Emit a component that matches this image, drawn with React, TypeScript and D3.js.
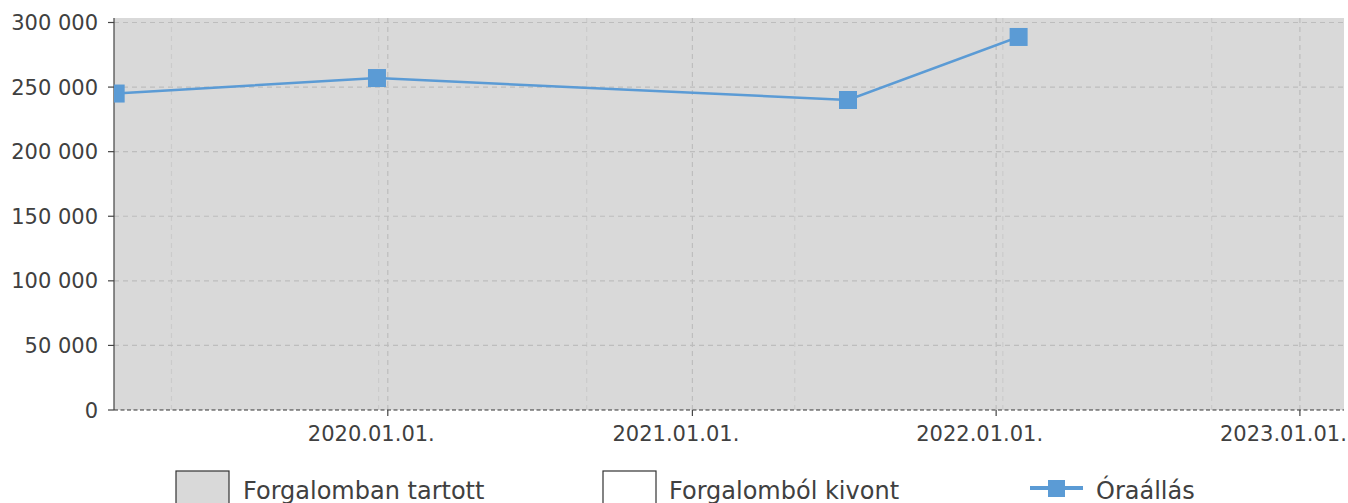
import React from "react";
import * as d3 from "d3";

// Óraállás idősor (dátum, km)
const readingDates = ["2019-02-08", "2019-12-19", "2021-07-07", "2022-01-28"];
const readingValues = [245000, 257000, 240000, 288800];

const yearTicks = ["2020-01-01", "2021-01-01", "2022-01-01", "2023-01-01"];
const minorTicks = ["2019-04-16", "2019-12-21", "2020-08-27", "2021-05-04", "2022-01-09", "2022-09-17"];
const yTicks = [0, 50000, 100000, 150000, 200000, 250000, 300000];
const legendLabels = ["Forgalomban tartott", "Forgalomból kivont", "Óraállás"];

const W = 1348;
const H = 503;
const M = { left: 114, right: 1344, top: 18, bottom: 410 };
const LINE = "#5b9bd5";
const BG = "#d9d9d9";
const TEXT = "#404040";
const FONT = "DejaVu Sans, sans-serif";

const parse = d3.utcParse("%Y-%m-%d");
const fmtDate = d3.utcFormat("%Y.%m.%d.");
const fmtNum = (v: number) => d3.format(",")(v).replace(/,/g, " ");

export default function App() {
  const x = d3
    .scaleUtc()
    .domain([parse("2019-02-06")!, parse("2023-02-23")!])
    .range([M.left, M.right]);
  const y = d3.scaleLinear().domain([0, 300000]).range([M.bottom, 22.5]);

  const points = readingDates.map((d, i) => ({ date: parse(d)!, value: readingValues[i] }));
  const line = d3
    .line<{ date: Date; value: number }>()
    .x((d) => x(d.date))
    .y((d) => y(d.value));

  return (
    <>
      <style>{"body{margin:0}"}</style>
      <svg width={W} height={H} style={{ display: "block", fontFamily: FONT }}>
        <defs>
          <clipPath id="plot">
            <rect x={M.left} y={M.top} width={M.right - M.left} height={M.bottom - M.top} />
          </clipPath>
        </defs>
        <rect x={M.left} y={M.top} width={M.right - M.left} height={M.bottom - M.top} fill={BG} />

        {/* rácsvonalak */}
        {minorTicks.map((d) => (
          <line key={d} x1={x(parse(d)!)} x2={x(parse(d)!)} y1={M.top} y2={M.bottom}
            stroke="#cbcbcb" strokeWidth={1.2} strokeDasharray="5,4" />
        ))}
        {yearTicks.map((d) => (
          <line key={d} x1={x(parse(d)!)} x2={x(parse(d)!)} y1={M.top} y2={M.bottom}
            stroke="#bdbdbd" strokeWidth={1.2} strokeDasharray="5,4" />
        ))}
        {yTicks.filter((t) => t > 0).map((t) => (
          <line key={t} x1={M.left} x2={M.right} y1={y(t)} y2={y(t)}
            stroke="#bdbdbd" strokeWidth={1.2} strokeDasharray="5,4" />
        ))}

        {/* tengelyek */}
        <line x1={M.left} x2={M.left} y1={M.top} y2={M.bottom} stroke="#444" strokeWidth={1.2} />
        <line x1={M.left} x2={M.right} y1={M.bottom} y2={M.bottom} stroke="#333" strokeWidth={1.2} strokeDasharray="4,2.5" />
        {yTicks.map((t) => (
          <g key={t}>
            <line x1={M.left - 6} x2={M.left} y1={y(t)} y2={y(t)} stroke="#444" strokeWidth={1.2} />
            <text x={98} y={y(t)} dy="0.36em" textAnchor="end" fontSize={21} fill={TEXT}>
              {fmtNum(t)}
            </text>
          </g>
        ))}
        {yearTicks.map((d) => (
          <g key={d}>
            <line x1={x(parse(d)!)} x2={x(parse(d)!)} y1={M.bottom} y2={M.bottom + 6} stroke="#444" strokeWidth={1.2} />
            <text x={x(parse(d)!) + 47} y={441} textAnchor="end" fontSize={21} fill={TEXT}>
              {fmtDate(parse(d)!)}
            </text>
          </g>
        ))}

        {/* adatsor */}
        <g clipPath="url(#plot)">
          <path d={line(points) ?? ""} fill="none" stroke={LINE} strokeWidth={2.5} />
          {points.map((p, i) => (
            <rect key={i} x={x(p.date) - 9} y={y(p.value) - 9} width={18} height={18} fill={LINE} />
          ))}
        </g>

        {/* jelmagyarázat */}
        <rect x={176} y={471} width={53} height={40} fill={BG} stroke="#333" strokeWidth={1.2} />
        <text x={243} y={499} fontSize={24} fill={TEXT}>{legendLabels[0]}</text>
        <rect x={603} y={471} width={53} height={40} fill="#fff" stroke="#333" strokeWidth={1.2} />
        <text x={669} y={499} fontSize={24} fill={TEXT}>{legendLabels[1]}</text>
        <line x1={1030} x2={1083} y1={488} y2={488} stroke={LINE} strokeWidth={4} />
        <rect x={1048} y={480} width={17} height={17} fill={LINE} />
        <text x={1096} y={499} fontSize={24} fill={TEXT}>{legendLabels[2]}</text>
      </svg>
    </>
  );
}
